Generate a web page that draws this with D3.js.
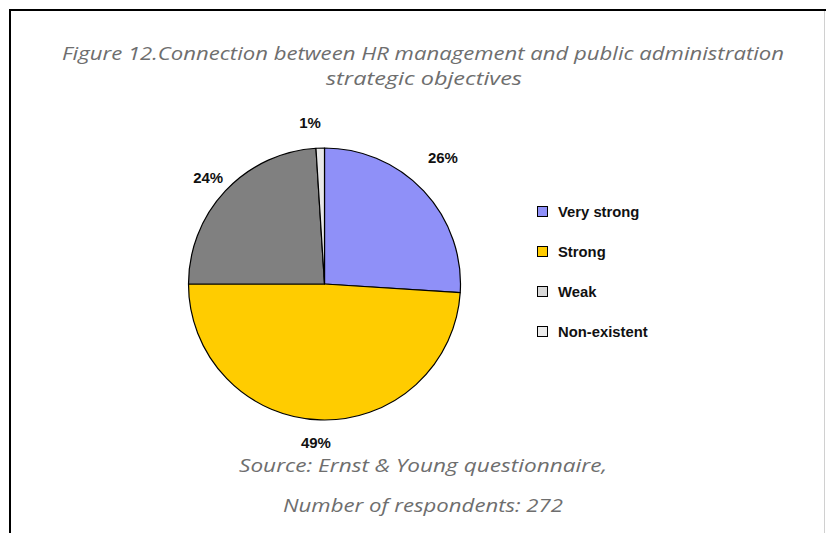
<!DOCTYPE html>
<html>
<head>
<meta charset="utf-8">
<script src="https://cdn.jsdelivr.net/npm/d3@7"></script>
<style>
  html, body { margin: 0; padding: 0; background: #fff; }
  svg { display: block; }
</style>
</head>
<body>
<script>
// Survey answers: strength of the link between HR management and strategic objectives
const categories = ["Very strong", "Strong", "Weak", "Non-existent"];
const shares = [26, 49, 24, 1];
const sliceColors = ["#8f90f8", "#ffcc00", "#808080", "#e8e8e8"];
const legendColors = ["#8f90f8", "#ffcc00", "#d9d9d9", "#ececec"];
const titleLines = [
  "Figure 12.Connection between HR management and public administration",
  "strategic objectives"
];
const sourceLines = [
  "Source: Ernst & Young questionnaire,",
  "Number of respondents: 272"
];

const W = 826, H = 533;
const svg = d3.select("body").append("svg")
  .attr("width", W).attr("height", H);

// Frame
svg.append("line").attr("x1", 9).attr("x2", W).attr("y1", 10).attr("y2", 10)
  .attr("stroke", "#000").attr("stroke-width", 2);
svg.append("line").attr("x1", 10).attr("x2", 10).attr("y1", 9).attr("y2", H)
  .attr("stroke", "#000").attr("stroke-width", 2);
svg.append("line").attr("x1", 824.5).attr("x2", 824.5).attr("y1", 11).attr("y2", H)
  .attr("stroke", "#d0d0d0").attr("stroke-width", 1);

// Title
const titleFont = "'Open Sans', 'DejaVu Sans', sans-serif";
svg.append("text").attr("x", 423).attr("y", 60)
  .attr("text-anchor", "middle")
  .attr("font-family", titleFont).attr("font-style", "italic")
  .attr("font-size", 18).attr("fill", "#6e6e6e")
  .attr("textLength", 722).attr("lengthAdjust", "spacingAndGlyphs")
  .text(titleLines[0]);
svg.append("text").attr("x", 424).attr("y", 85)
  .attr("text-anchor", "middle")
  .attr("font-family", titleFont).attr("font-style", "italic")
  .attr("font-size", 18).attr("fill", "#6e6e6e")
  .attr("textLength", 196).attr("lengthAdjust", "spacingAndGlyphs")
  .text(titleLines[1]);

// Pie
const cx = 324.5, cy = 284, r = 136;
const pie = d3.pie().sort(null).value(d => d)(shares);
const arc = d3.arc().innerRadius(0).outerRadius(r);
const g = svg.append("g").attr("transform", `translate(${cx},${cy})`);
g.selectAll("path").data(pie).join("path")
  .attr("d", arc)
  .attr("fill", (d, i) => sliceColors[i])
  .attr("stroke", "#000").attr("stroke-width", 1.2)
  .attr("stroke-linejoin", "round");

// Percentage labels outside the rim: distance from centre and angular nudge (deg)
const labelFont = "'Liberation Sans', Arial, sans-serif";
const labelRadius = [173, 159, 158, 162];
const labelNudge = [-3.6, 1.3, -0.6, -3.3];
g.selectAll("text.pct").data(pie).join("text")
  .attr("class", "pct")
  .attr("transform", (d, i) => {
    const a = (d.startAngle + d.endAngle) / 2 + labelNudge[i] * Math.PI / 180;
    const lr = labelRadius[i];
    return `translate(${Math.sin(a) * lr},${-Math.cos(a) * lr + 5.5})`;
  })
  .attr("text-anchor", "middle")
  .attr("font-family", labelFont).attr("font-weight", "bold")
  .attr("font-size", 15).attr("fill", "#111")
  .text(d => d.data + "%");

// Legend
const legend = svg.append("g").attr("transform", "translate(537,206)");
const rowStep = 40;
const rows = legend.selectAll("g").data(categories).join("g")
  .attr("transform", (d, i) => `translate(0,${i * rowStep})`);
rows.append("rect").attr("x", 0.5).attr("y", 0.5).attr("width", 10).attr("height", 10)
  .attr("fill", (d, i) => legendColors[i]).attr("stroke", "#000").attr("stroke-width", 1);
rows.append("text").attr("x", 21).attr("y", 11)
  .attr("font-family", labelFont).attr("font-weight", "bold")
  .attr("font-size", 14.8).attr("fill", "#111")
  .text(d => d);

// Source note
svg.append("text").attr("x", 423).attr("y", 472)
  .attr("text-anchor", "middle")
  .attr("font-family", titleFont).attr("font-style", "italic")
  .attr("font-size", 19).attr("fill", "#6e6e6e")
  .attr("textLength", 368).attr("lengthAdjust", "spacingAndGlyphs")
  .text(sourceLines[0]);
svg.append("text").attr("x", 423).attr("y", 512)
  .attr("text-anchor", "middle")
  .attr("font-family", titleFont).attr("font-style", "italic")
  .attr("font-size", 19).attr("fill", "#6e6e6e")
  .attr("textLength", 280).attr("lengthAdjust", "spacingAndGlyphs")
  .text(sourceLines[1]);
</script>
</body>
</html>
